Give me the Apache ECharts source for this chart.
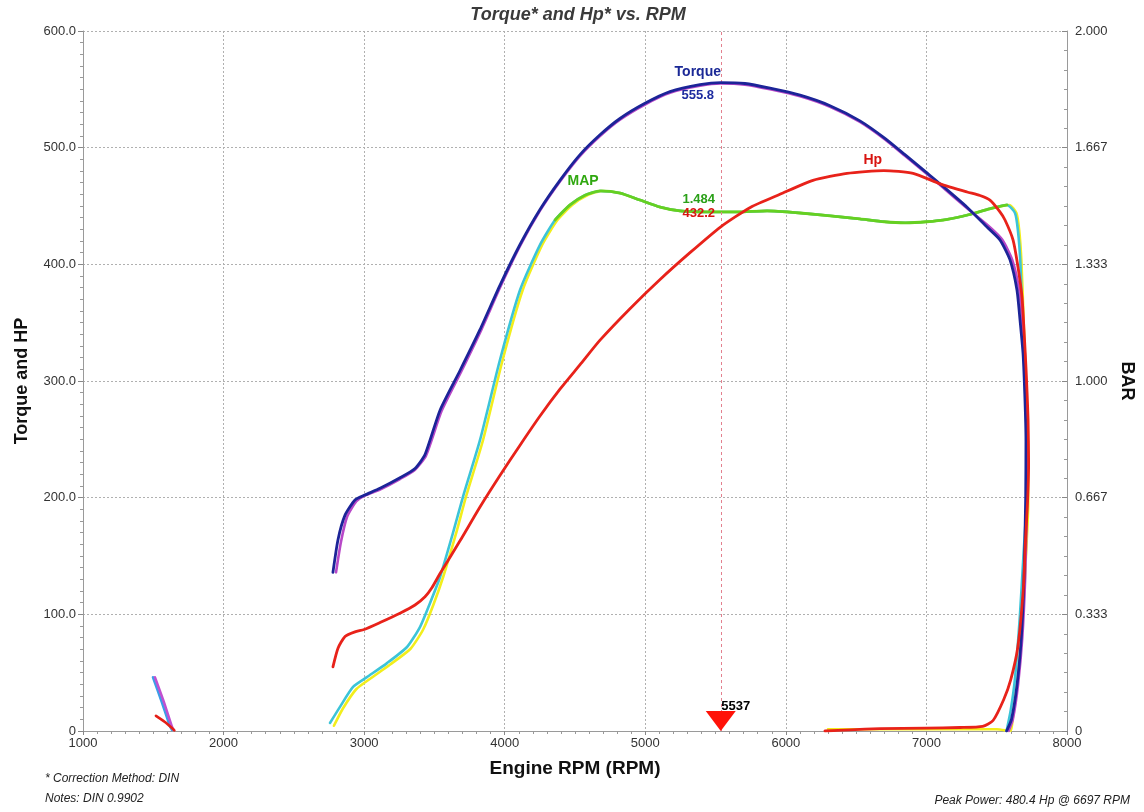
<!DOCTYPE html>
<html><head><meta charset="utf-8">
<script src="https://cdn.jsdelivr.net/npm/echarts@6/dist/echarts.min.js"></script>
<style>html,body{margin:0;padding:0;background:#fff}#c{width:1144px;height:812px}</style>
</head><body><div id="c"></div>
<script>
const chartTitle = 'Torque* and Hp* vs. RPM';
const noteLines = ['* Correction Method: DIN', 'Notes: DIN 0.9902'];
const peakNote = 'Peak Power: 480.4 Hp @ 6697 RPM';

// Torque, run 1 (blue)
const torqueRpm = [2778,2814,2864,2935,3000,3113,3255,3362,3433,3540,3682,3824,3966,4109,4251,4393,4536,4678,4820,4998,5176,5389,5537,5709,5887,6101,6314,6527,6705,6847,6997,7097,7289,7431,7523,7594,7644,7666,7687,7701,7708,7706,7694,7675,7645,7605,7570];
const torqueVal = [136,164,185,198,202,208,217,225,237,275,309,344,382,417,447,472,494,511,525,538,548,554,555.8,555,551,545,536,523,508,494,479,469,449,432,421,404,378,352,324,284,249,200,130,80,40,10,0];
// Torque, run 2 (magenta)
const torque2Rpm = [2800,2835,2880,2945,3010,3113,3255,3362,3440,3550,3690,3830,3970,4110,4251,4393,4536,4678,4820,4998,5176,5389,5537,5709,5887,6101,6314,6527,6705,6847,6997,7097,7289,7450,7540,7610,7660,7682,7700,7712,7718,7716,7702,7682,7652,7615,7585];
const torque2Val = [136,162,184,197,202,207,216,224,236,274,308,343,381,416,446,471,493,510,524,537,547,553,555,554,550,544,535,522,507,493,478,468,448,432,421,404,378,352,324,284,249,200,130,80,40,10,0];
// Early short traces near 1500 rpm
const torqueEarlyRpm = [1498,1560,1619,1633];
const torqueEarlyVal = [46,25,4,1];
const torque2EarlyRpm = [1512,1575,1632,1645];
const torque2EarlyVal = [46,25,4,1];
const hpEarlyRpm = [1519,1580,1633,1650];
const hpEarlyVal = [13,8,2.6,0.5];
// Hp (red)
const hpRpm = [2778,2814,2864,2935,3000,3113,3255,3362,3433,3483,3540,3682,3824,3966,4109,4251,4393,4536,4678,4891,5105,5318,5537,5750,5958,6193,6435,6697,6905,7097,7289,7381,7452,7523,7559,7616,7651,7680,7694,7708,7716,7723,7727,7720,7705,7690,7650,7600,7550,7474,7400,7239,6997,6670,6456,6278];
const hpVal = [55,71,81,85,87,93,101,108,115,123,135,163,192,219,245,270,293,314,335,362,387,410,432.2,449,460,472,478,480.4,478,469,462,459,455,445,438,421,398,372,344,312,290,267,230,198,164,123,72,44,27,9,4,3,2.5,2,1,0];
// MAP (bar) cyan trace
const mapCyanRpm = [2757,2828,2921,3020,3163,3305,3397,3469,3540,3632,3703,3824,3966,4109,4251,4358,4464,4571,4678,4820,4962,5105,5247,5439,5652,5866,6101,6314,6527,6700,6850,7000,7150,7300,7450,7573,7630,7651,7668,7682,7695,7708,7716,7712,7690,7665,7630,7600,7570];
const mapCyanBar = [0.023,0.069,0.126,0.154,0.194,0.24,0.297,0.366,0.44,0.566,0.669,0.831,1.06,1.26,1.389,1.46,1.503,1.531,1.543,1.537,1.517,1.497,1.486,1.483,1.483,1.486,1.48,1.472,1.463,1.455,1.452,1.455,1.462,1.475,1.492,1.503,1.48,1.43,1.34,1.19,1.05,0.91,0.78,0.65,0.5,0.33,0.15,0.06,0];
// MAP yellow trace
const mapYellowRpm = [2785,2850,2945,3045,3185,3330,3420,3492,3562,3655,3725,3845,3985,4128,4268,4375,4480,4590,4690,4820,4962,5105,5247,5439,5652,5866,6101,6314,6527,6700,6850,7000,7150,7300,7450,7590,7640,7660,7676,7690,7702,7715,7724,7724,7708,7685,7650,7620,7595,7500,6300];
const mapYellowBar = [0.015,0.065,0.12,0.15,0.19,0.235,0.29,0.36,0.44,0.566,0.67,0.83,1.06,1.26,1.39,1.46,1.503,1.531,1.543,1.537,1.517,1.497,1.486,1.483,1.483,1.486,1.48,1.472,1.463,1.455,1.452,1.455,1.462,1.475,1.492,1.503,1.48,1.43,1.34,1.19,1.05,0.91,0.78,0.65,0.5,0.33,0.15,0.06,0,0.005,0.005];
// MAP green (overlap) trace
const mapGreenRpm = [4358,4464,4571,4678,4820,4962,5105,5247,5439,5652,5866,6101,6314,6527,6700,6850,7000,7150,7300,7450,7573];
const mapGreenBar = [1.46,1.503,1.531,1.543,1.537,1.517,1.497,1.486,1.483,1.483,1.486,1.48,1.472,1.463,1.455,1.452,1.455,1.462,1.475,1.492,1.503];

// Cursor readout
const cursorRpm = 5537;
const cursorTorque = 555.8;
const cursorHp = 432.2;
const cursorMap = 1.484;
const peakHpRpm = 6697;
const peakHp = 480.4;
const mapLabelRpm = 4678;
const mapLabelBar = 1.543;

function pairs(xs, ys) { return xs.map((x, i) => [x, ys[i]]); }

const F = "'Liberation Sans', Arial, sans-serif";
const chart = echarts.init(document.getElementById('c'), null, {renderer: 'canvas'});

function lineSeries(name, xs, ys, color, yIdx, z, width) {
  return {
    name, type: 'line', xAxisIndex: 0, yAxisIndex: yIdx,
    data: pairs(xs, ys), showSymbol: false, symbol: 'none',
    smooth: 0.2, z: z, animation: false,
    lineStyle: {color, width: width || 2.6, cap: 'round', join: 'round'}
  };
}

const labelStyle = (color, dx, dy, size) => ({
  show: true, position: 'inside', offset: [dx, dy],
  color, fontFamily: F, fontWeight: 'bold', fontSize: size || 14,
  textBorderWidth: 0, textBorderColor: 'transparent', textShadowBlur: 0, opacity: 1
});

const option = {
  backgroundColor: '#ffffff',
  animation: false,
  grid: {left: 83, right: 77, top: 31, bottom: 81, containLabel: false, outerBoundsMode: 'none'},
  xAxis: {
    type: 'value', min: 1000, max: 8000, interval: 1000,
    name: 'Engine RPM (RPM)', nameLocation: 'middle', nameGap: 28,
    nameTextStyle: {fontFamily: F, fontWeight: 'bold', fontSize: 19, color: '#111'},
    axisLine: {lineStyle: {color: '#9a9a9a', width: 1}},
    axisTick: {show: true, length: 4, lineStyle: {color: '#888'}},
    minorTick: {show: true, splitNumber: 10, length: 3, lineStyle: {color: '#999'}},
    axisLabel: {fontFamily: F, fontSize: 13, color: '#333', margin: 6, formatter: v => String(v)},
    splitLine: {show: true, lineStyle: {color: '#b0b0b0', type: [2, 2], width: 1}}
  },
  yAxis: [
    {
      type: 'value', min: 0, max: 600, interval: 100, position: 'left',
      name: 'Torque and HP', nameLocation: 'middle', nameGap: 52, nameRotate: 90,
      nameTextStyle: {fontFamily: F, fontWeight: 'bold', fontSize: 18, color: '#111'},
      axisLine: {show: true, lineStyle: {color: '#9a9a9a', width: 1}},
      axisTick: {show: true, length: 5, lineStyle: {color: '#888'}},
      minorTick: {show: true, splitNumber: 10, length: 3, lineStyle: {color: '#999'}},
      axisLabel: {fontFamily: F, fontSize: 13, color: '#333', margin: 7,
        formatter: v => v === 0 ? '0' : v.toFixed(1)},
      splitLine: {show: true, lineStyle: {color: '#b0b0b0', type: [2, 2], width: 1}}
    },
    {
      type: 'value', min: 0, max: 2, interval: 1 / 3, position: 'right',
      name: 'BAR', nameLocation: 'middle', nameGap: 50, nameRotate: -90,
      nameTextStyle: {fontFamily: F, fontWeight: 'bold', fontSize: 18, color: '#111'},
      axisLine: {show: true, lineStyle: {color: '#9a9a9a', width: 1}},
      axisTick: {show: true, length: 5, inside: true, lineStyle: {color: '#888'}},
      minorTick: {show: true, splitNumber: 6, length: 3, lineStyle: {color: '#999'}},
      axisLabel: {fontFamily: F, fontSize: 13, color: '#333', margin: 8,
        formatter: v => v < 1e-6 ? '0' : v.toFixed(3)},
      splitLine: {show: false}
    }
  ],
  series: [
    lineSeries('MAP yellow', mapYellowRpm, mapYellowBar, '#f2ee1c', 1, 2),
    lineSeries('MAP cyan', mapCyanRpm, mapCyanBar, '#3cc4d8', 1, 3),
    lineSeries('MAP', mapGreenRpm, mapGreenBar, '#66d020', 1, 4, 2.8),
    lineSeries('Torque early', torqueEarlyRpm, torqueEarlyVal, '#3a9ee8', 0, 5),
    lineSeries('Torque 2 early', torque2EarlyRpm, torque2EarlyVal, '#c050d0', 0, 5),
    lineSeries('Torque 2', torque2Rpm, torque2Val, '#b848c8', 0, 5),
    Object.assign(lineSeries('Torque', torqueRpm, torqueVal, '#1c2498', 0, 6, 2.8), {
      markLine: {
        silent: true, symbol: 'none', animation: false,
        label: {show: false},
        lineStyle: {color: '#e3808e', type: [3, 3], width: 1},
        data: [{xAxis: cursorRpm}]
      }
    }),
    lineSeries('Hp early', hpEarlyRpm, hpEarlyVal, '#e41e16', 0, 7),
    lineSeries('Hp', hpRpm, hpVal, '#e8221a', 0, 7, 2.8),
    {
      name: 'cursor', type: 'scatter', yAxisIndex: 0, z: 9, animation: false,
      data: [[cursorRpm, 0]], symbol: 'triangle', symbolRotate: 180,
      symbolSize: [30, 20], symbolOffset: [0, -10],
      itemStyle: {color: '#ff1208', opacity: 1},
      label: Object.assign(labelStyle('#000', 15, -15, 13), {formatter: String(cursorRpm)})
    },
    {
      name: 'torque labels', type: 'scatter', yAxisIndex: 0, z: 10, symbolSize: 0, animation: false,
      itemStyle: {opacity: 1},
      data: [
        {value: [cursorRpm, cursorTorque], label: Object.assign(labelStyle('#1a2896', -23, -10, 14), {formatter: 'Torque'})},
        {value: [cursorRpm, cursorTorque], label: Object.assign(labelStyle('#1e2ca0', -23, 13, 13), {formatter: String(cursorTorque)})},
        {value: [cursorRpm, cursorHp], label: Object.assign(labelStyle('#d81410', -22, -13, 13), {formatter: String(cursorHp)})},
        {value: [peakHpRpm, peakHp], label: Object.assign(labelStyle('#d81410', -11, -10, 14), {formatter: 'Hp'})}
      ]
    },
    {
      name: 'map labels', type: 'scatter', yAxisIndex: 1, z: 10, symbolSize: 0, animation: false,
      itemStyle: {opacity: 1},
      data: [
        {value: [mapLabelRpm, mapLabelBar], label: Object.assign(labelStyle('#30a810', -17, -10, 14), {formatter: 'MAP'})},
        {value: [cursorRpm, cursorMap], label: Object.assign(labelStyle('#2aa018', -22, -12, 13), {formatter: cursorMap.toFixed(3)})}
      ]
    }
  ],
  graphic: [
    {type: 'text', x: 578, y: 6, z: 20,
      style: {text: chartTitle, textAlign: 'center', fontFamily: F, fontSize: 18, fontWeight: 'bold', fontStyle: 'italic', fill: '#3a3a3a'}},
    {type: 'text', left: 45, top: 773, z: 20,
      style: {text: noteLines[0], fontFamily: F, fontSize: 12, fontStyle: 'italic', fill: '#222'}},
    {type: 'text', left: 45, top: 793, z: 20,
      style: {text: noteLines[1], fontFamily: F, fontSize: 12, fontStyle: 'italic', fill: '#222'}},
    {type: 'text', right: 14, top: 795, z: 20,
      style: {text: peakNote, fontFamily: F, fontSize: 12, fontStyle: 'italic', fill: '#222'}}
  ]
};
chart.setOption(option);
</script>
</body></html>
